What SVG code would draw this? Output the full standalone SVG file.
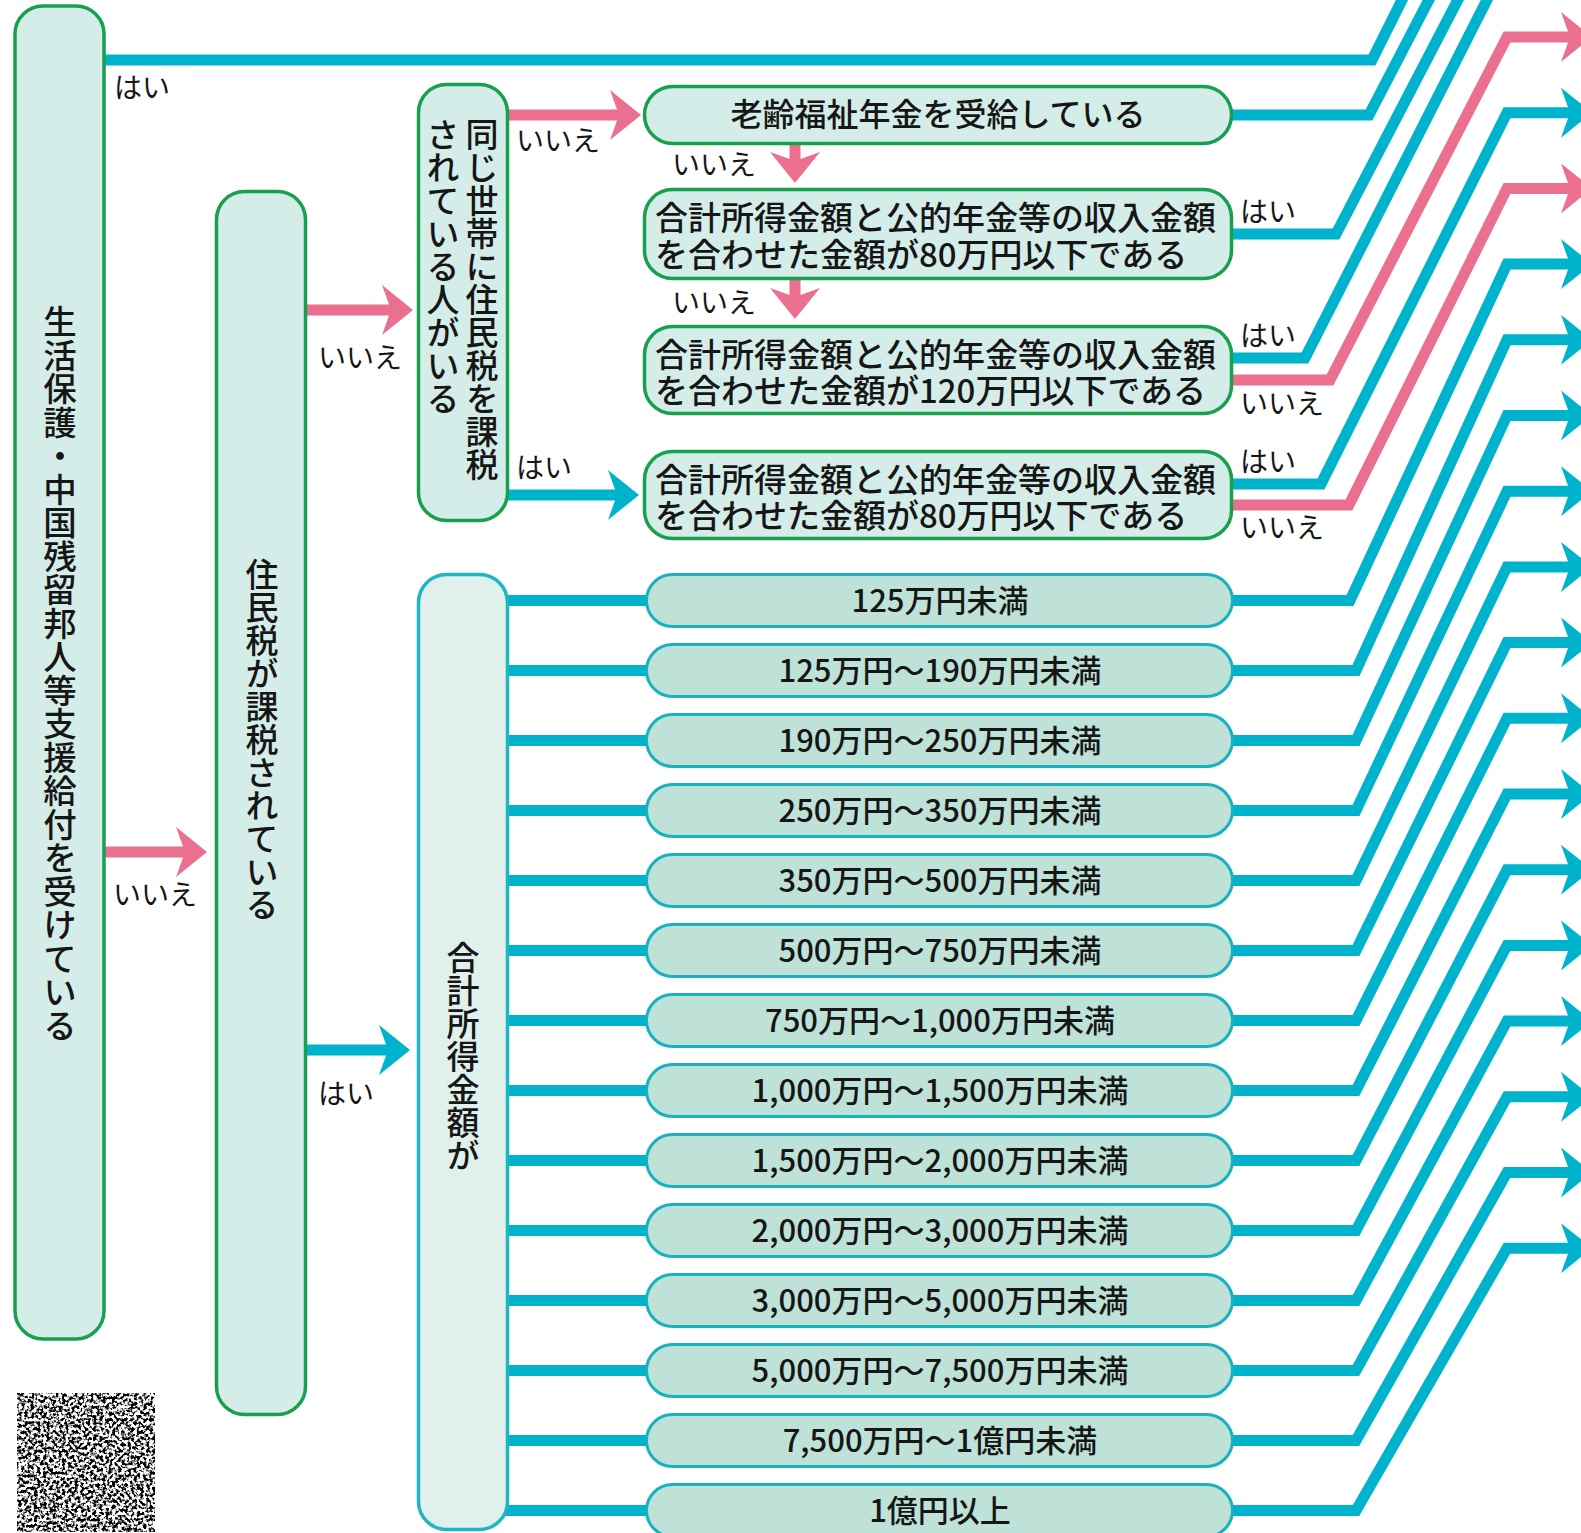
<svg xmlns="http://www.w3.org/2000/svg" width="1581" height="1533" viewBox="0 0 1581 1533">
<style>
.gbox{fill:#d5ede8;stroke:#18a04e;stroke-width:3.5}
.tbox{fill:#e0f1ec;stroke:#1fb5c1;stroke-width:3.5}
.rbox{fill:#bee2d7;stroke:#17b1bf;stroke-width:3}
.blue{fill:none;stroke:#00b3cc;stroke-width:11;stroke-linejoin:miter}
.pink{fill:none;stroke:#eb6f8f;stroke-width:11;stroke-linejoin:miter}
text{font-family:"Noto Sans CJK JP","Noto Sans",sans-serif;fill:#161616}
.v{writing-mode:vertical-rl;text-orientation:upright;font-size:33px;font-weight:500}
.v1{font-size:33.5px}
.q{font-size:32px;font-weight:500}
.q2{font-size:33px;font-weight:500}
.r{font-size:31px;font-weight:500;text-anchor:middle}
.lb{font-size:28px}
</style>
<defs>
<marker id="ab" markerUnits="userSpaceOnUse" markerWidth="31" markerHeight="50" viewBox="0 0 31 50" refX="9" refY="25" orient="auto" overflow="visible"><path d="M0 0 L31 25 L0 50 L9 25 Z" fill="#00b3cc"/></marker>
<marker id="ap" markerUnits="userSpaceOnUse" markerWidth="31" markerHeight="50" viewBox="0 0 31 50" refX="9" refY="25" orient="auto" overflow="visible"><path d="M0 0 L31 25 L0 50 L9 25 Z" fill="#eb6f8f"/></marker>
<filter id="noise" x="0" y="0" width="1" height="1">
<feTurbulence type="fractalNoise" baseFrequency="0.32" numOctaves="2" seed="5"/>
<feColorMatrix type="matrix" values="0 0 0 0 0  0 0 0 0 0  0 0 0 0 0  -6 0 0 0 3.4"/>
</filter>
</defs>

<g id="connectors">
<path class="blue" d="M100 60 H1372 L1407 -10"/>
<path class="pink" d="M100 852 H185" marker-end="url(#ap)"/>
<path class="pink" d="M300 310 H391" marker-end="url(#ap)"/>
<path class="blue" d="M300 1050 H388" marker-end="url(#ab)"/>
<path class="pink" d="M500 115 H619" marker-end="url(#ap)"/>
<path class="blue" d="M500 495 H617" marker-end="url(#ab)"/>
<path class="pink" d="M795 140 V161" marker-end="url(#ap)"/>
<path class="pink" d="M795 276 V297" marker-end="url(#ap)"/>
<path class="blue" d="M500 600.5 H650 M500 670.5 H650 M500 740.5 H650 M500 810.5 H650 M500 880.5 H650 M500 950.5 H650 M500 1020.5 H650 M500 1090.5 H650 M500 1160.5 H650 M500 1230.5 H650 M500 1300.5 H650 M500 1370.5 H650 M500 1440.5 H650 M500 1510.5 H650"/>
<path class="blue" d="M1228 115 H1369 L1434 -10"/>
<path class="blue" d="M1228 234 H1336 L1463 -10"/>
<path class="blue" d="M1228 358 H1305 L1492 -10"/>
<path class="pink" d="M1228 380 H1330 L1507 37 H1570" marker-end="url(#ap)"/>
<path class="blue" d="M1228 484 H1321 L1507 112.7 H1570" marker-end="url(#ab)"/>
<path class="pink" d="M1228 505 H1349 L1507 188.4 H1570" marker-end="url(#ap)"/>
<path class="blue" d="M1228 600.5 H1350 L1507 264.1 H1570" marker-end="url(#ab)"/>
<path class="blue" d="M1228 670.5 H1356 L1507 339.8 H1570" marker-end="url(#ab)"/>
<path class="blue" d="M1228 740.5 H1356 L1507 415.5 H1570" marker-end="url(#ab)"/>
<path class="blue" d="M1228 810.5 H1356 L1507 491.2 H1570" marker-end="url(#ab)"/>
<path class="blue" d="M1228 880.5 H1356 L1507 566.9 H1570" marker-end="url(#ab)"/>
<path class="blue" d="M1228 950.5 H1356 L1507 642.6 H1570" marker-end="url(#ab)"/>
<path class="blue" d="M1228 1020.5 H1356 L1507 718.3 H1570" marker-end="url(#ab)"/>
<path class="blue" d="M1228 1090.5 H1356 L1507 794 H1570" marker-end="url(#ab)"/>
<path class="blue" d="M1228 1160.5 H1356 L1507 869.7 H1570" marker-end="url(#ab)"/>
<path class="blue" d="M1228 1230.5 H1356 L1507 945.4 H1570" marker-end="url(#ab)"/>
<path class="blue" d="M1228 1300.5 H1356 L1507 1021.1 H1570" marker-end="url(#ab)"/>
<path class="blue" d="M1228 1370.5 H1356 L1507 1096.8 H1570" marker-end="url(#ab)"/>
<path class="blue" d="M1228 1440.5 H1356 L1507 1172.5 H1570" marker-end="url(#ab)"/>
<path class="blue" d="M1228 1510.5 H1356 L1507 1248.2 H1570" marker-end="url(#ab)"/>
<text class="lb" x="114" y="98">はい</text>
<text class="lb" x="113" y="905">いいえ</text>
<text class="lb" x="318" y="368">いいえ</text>
<text class="lb" x="318" y="1104">はい</text>
<text class="lb" x="516" y="151">いいえ</text>
<text class="lb" x="516" y="478">はい</text>
<text class="lb" x="672" y="175">いいえ</text>
<text class="lb" x="672" y="313">いいえ</text>
<text class="lb" x="1240" y="222">はい</text>
<text class="lb" x="1240" y="346">はい</text>
<text class="lb" x="1240" y="414">いいえ</text>
<text class="lb" x="1240" y="472">はい</text>
<text class="lb" x="1240" y="538">いいえ</text>
</g>

<g id="n-seikatsu">
<rect class="gbox" x="15" y="6" width="89" height="1333" rx="28"/>
<text class="v v1" x="60" y="305">生活保護・中国残留邦人等支援給付を受けている</text>
</g>
<g id="n-juminzei">
<rect class="gbox" x="216.5" y="191.5" width="89" height="1223" rx="28"/>
<text class="v" x="262" y="558">住民税が課税されている</text>
</g>
<g id="n-setai">
<rect class="gbox" x="418.5" y="84.5" width="89" height="436" rx="28"/>
<text class="v" x="482" y="118">同じ世帯に住民税を課税</text>
<text class="v" x="443" y="118">されている人がいる</text>
</g>
<g id="n-rorei">
<rect class="gbox" x="644.5" y="86.5" width="587" height="57" rx="28.5"/>
<text class="q" x="938" y="126" text-anchor="middle">老齢福祉年金を受給している</text>
</g>
<g id="n-80a">
<rect class="gbox" x="644.5" y="189.5" width="587" height="89" rx="28"/>
<text class="q2" x="655" y="230">合計所得金額と公的年金等の収入金額<tspan x="655" dy="37">を合わせた金額が80万円以下である</tspan></text>
</g>
<g id="n-120">
<rect class="gbox" x="644.5" y="326.5" width="587" height="87" rx="28"/>
<text class="q2" x="655" y="367">合計所得金額と公的年金等の収入金額<tspan x="655" dy="36">を合わせた金額が120万円以下である</tspan></text>
</g>
<g id="n-80b">
<rect class="gbox" x="644.5" y="451.5" width="587" height="87" rx="28"/>
<text class="q2" x="655" y="492">合計所得金額と公的年金等の収入金額<tspan x="655" dy="36">を合わせた金額が80万円以下である</tspan></text>
</g>
<g id="n-gokei">
<rect class="tbox" x="418.5" y="574.5" width="89" height="955" rx="28"/>
<text class="v" x="463" y="941">合計所得金額が</text>
</g>
<g id="n-r1"><rect class="rbox" x="646.5" y="574.5" width="586" height="52" rx="26"/><text class="r" x="940" y="612">125万円未満</text></g>
<g id="n-r2"><rect class="rbox" x="646.5" y="644.5" width="586" height="52" rx="26"/><text class="r" x="940" y="682">125万円～190万円未満</text></g>
<g id="n-r3"><rect class="rbox" x="646.5" y="714.5" width="586" height="52" rx="26"/><text class="r" x="940" y="752">190万円～250万円未満</text></g>
<g id="n-r4"><rect class="rbox" x="646.5" y="784.5" width="586" height="52" rx="26"/><text class="r" x="940" y="822">250万円～350万円未満</text></g>
<g id="n-r5"><rect class="rbox" x="646.5" y="854.5" width="586" height="52" rx="26"/><text class="r" x="940" y="892">350万円～500万円未満</text></g>
<g id="n-r6"><rect class="rbox" x="646.5" y="924.5" width="586" height="52" rx="26"/><text class="r" x="940" y="962">500万円～750万円未満</text></g>
<g id="n-r7"><rect class="rbox" x="646.5" y="994.5" width="586" height="52" rx="26"/><text class="r" x="940" y="1032">750万円～1,000万円未満</text></g>
<g id="n-r8"><rect class="rbox" x="646.5" y="1064.5" width="586" height="52" rx="26"/><text class="r" x="940" y="1102">1,000万円～1,500万円未満</text></g>
<g id="n-r9"><rect class="rbox" x="646.5" y="1134.5" width="586" height="52" rx="26"/><text class="r" x="940" y="1172">1,500万円～2,000万円未満</text></g>
<g id="n-r10"><rect class="rbox" x="646.5" y="1204.5" width="586" height="52" rx="26"/><text class="r" x="940" y="1242">2,000万円～3,000万円未満</text></g>
<g id="n-r11"><rect class="rbox" x="646.5" y="1274.5" width="586" height="52" rx="26"/><text class="r" x="940" y="1312">3,000万円～5,000万円未満</text></g>
<g id="n-r12"><rect class="rbox" x="646.5" y="1344.5" width="586" height="52" rx="26"/><text class="r" x="940" y="1382">5,000万円～7,500万円未満</text></g>
<g id="n-r13"><rect class="rbox" x="646.5" y="1414.5" width="586" height="52" rx="26"/><text class="r" x="940" y="1452">7,500万円～1億円未満</text></g>
<g id="n-r14"><rect class="rbox" x="646.5" y="1484.5" width="586" height="52" rx="26"/><text class="r" x="940" y="1522">1億円以上</text></g>

<g id="code">
<rect x="17" y="1393" width="138" height="139" fill="#fff"/>
<rect x="17" y="1393" width="138" height="139" fill="#000" filter="url(#noise)"/>
</g>
</svg>
